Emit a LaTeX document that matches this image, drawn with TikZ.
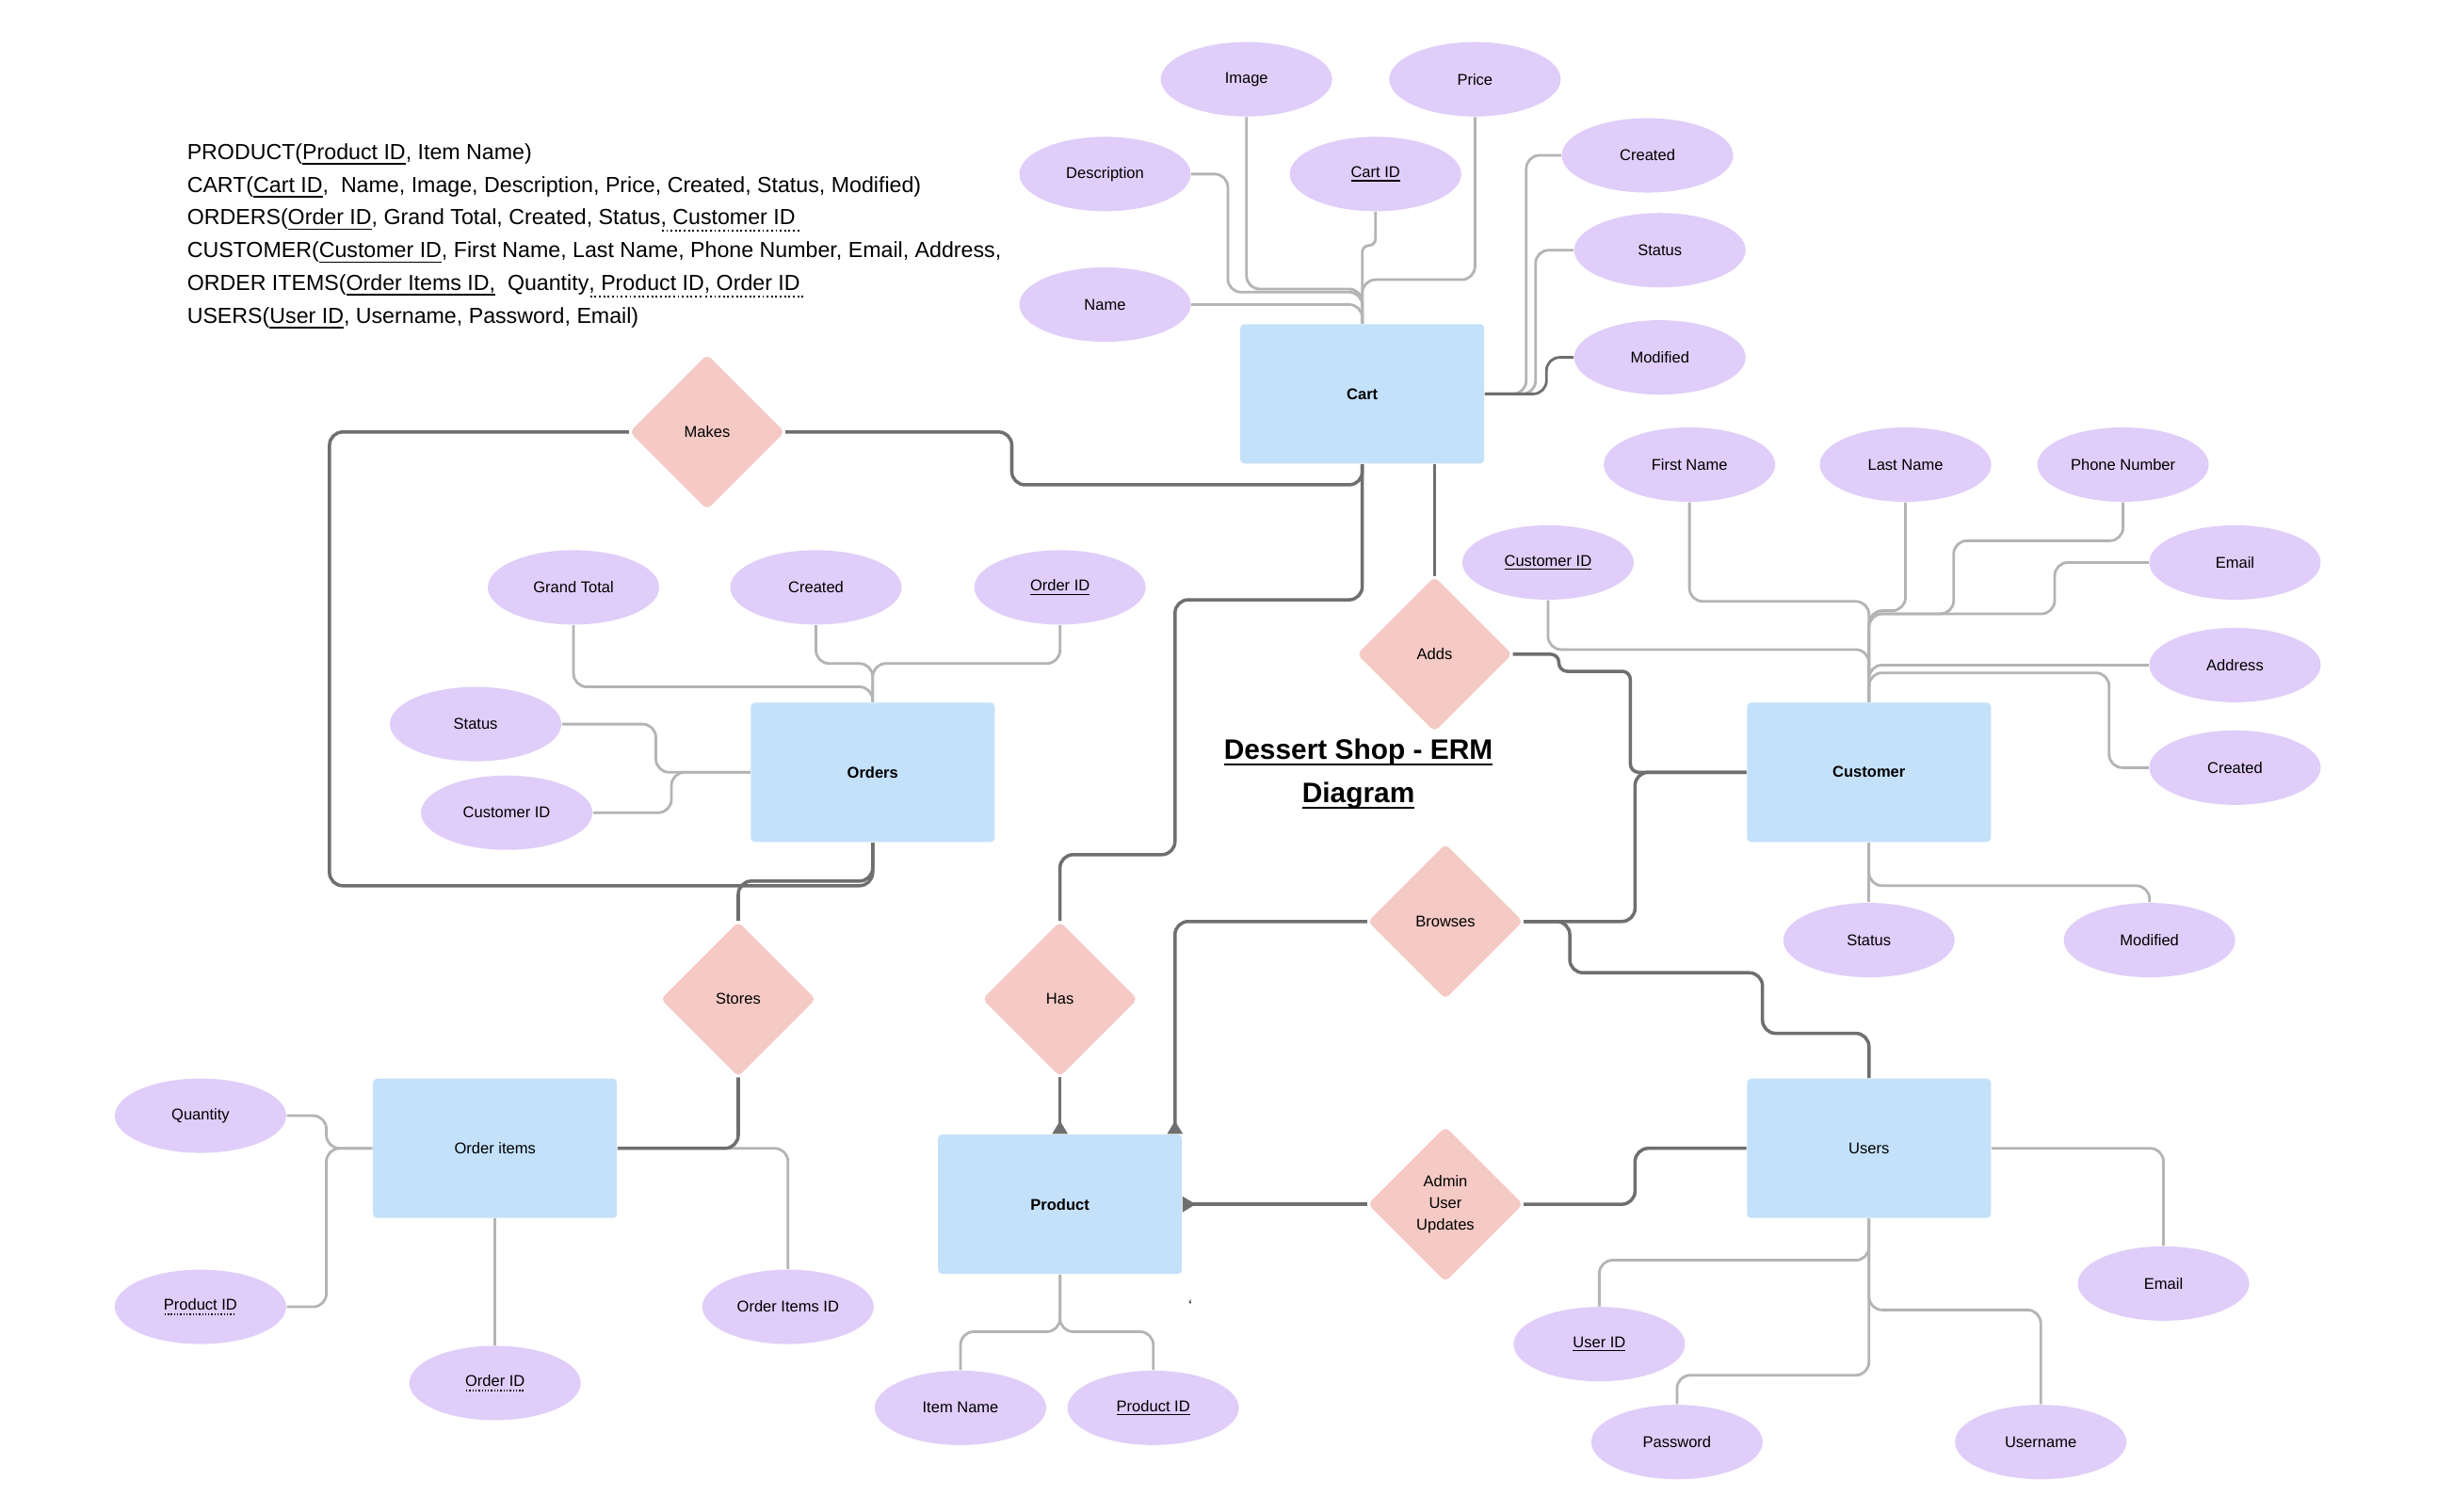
\documentclass[tikz,border=0pt]{standalone}
\usepackage{fontspec}
\setmainfont{Liberation Sans}
\usetikzlibrary{arrows.meta,shapes.geometric}
\definecolor{attrpurple}{HTML}{E0CDF9}
\definecolor{entityblue}{HTML}{C4E1FA}
\definecolor{relpink}{HTML}{F5C9C4}
\definecolor{linegrey}{HTML}{B4B4B4}
\definecolor{relgrey}{HTML}{6F6F6F}
\newsavebox{\ulbox}
\newcommand{\keyline}[1]{% solid underline (key)
  \sbox{\ulbox}{#1}\rlap{\raisebox{-0.24em}{\rule{\wd\ulbox}{0.07em}}}\usebox{\ulbox}}
\newcommand{\fkline}[1]{% dotted underline (foreign key)
  \sbox{\ulbox}{#1}\rlap{\raisebox{-0.32em}{\hbox to \wd\ulbox{\leaders\hbox to 0.2em{\hss\rule{0.08em}{0.08em}\hss}\hfill}}}\usebox{\ulbox}}
\newcommand{\smallfont}{\fontsize{4.7}{5.6}\selectfont}
\tikzset{
  attr/.style={ellipse, fill=attrpurple, minimum width=18.2mm, minimum height=7.9mm, inner sep=0pt, font=\smallfont},
  entity/.style={rectangle, rounded corners=1.2pt, fill=entityblue, minimum width=25.9mm, minimum height=14.8mm, font=\smallfont\bfseries},
  relation/.style={diamond, aspect=1, fill=relpink, rounded corners=1.5pt, minimum width=16.5mm, minimum height=16.5mm, inner sep=0pt, align=center, font=\fontsize{4.7}{6.6}\selectfont},
  attrline/.style={linegrey, line width=0.8pt, rounded corners=4pt},
  relline/.style={relgrey, line width=1pt, rounded corners=4pt},
  keyend/.style={-{Triangle[reversed,length=4pt,width=4.5pt]}},
}

\begin{document}
\begin{tikzpicture}[x=0.16505mm, y=-0.16505mm]
  \fill[white] (0,0) rectangle (1568,973);
  \useasboundingbox (0,0) rectangle (1568,973);
  % Schema text
  \node[anchor=base west, align=left, inner sep=0pt, font=\fontsize{6.6}{9.9}\selectfont] (schema) at (120,208)
    {PRODUCT(\keyline{Product ID}, Item Name)\\
     CART(\keyline{Cart ID},\ \ Name, Image, Description, Price, Created, Status, Modified)\\
     ORDERS(\keyline{Order ID}, Grand Total, Created, Status\fkline{, Customer ID\ }\\
     CUSTOMER(\keyline{Customer ID}, First Name, Last Name, Phone Number, Email, Address,\\
     ORDER ITEMS(\keyline{Order Items ID,}\ \ Quantity\fkline{, Product ID}\fkline{, Order ID\ }\\
     USERS(\keyline{User ID}, Username, Password, Email)};
  \node[font=\fontsize{8.5}{13.1}\selectfont\bfseries, align=center] (title) at (874,498)
    {\keyline{Dessert Shop - ERM}\\\keyline{Diagram}};
  % Entities
  \node[entity] (cart) at (876.5,253.5) {Cart};
  \node[entity] (orders) at (561.5,497) {Orders};
  \node[entity] (customer) at (1202.5,497) {Customer};
  \node[entity, font=\smallfont] (orderitems) at (318.5,739) {Order items};
  \node[entity] (product) at (682,775) {Product};
  \node[entity, font=\smallfont] (users) at (1202.5,739) {Users};
  % Relationships
  \node[relation] (makes) at (455,278) {Makes};
  \node[relation] (adds) at (923,421) {Adds};
  \node[relation] (browses) at (930,593) {Browses};
  \node[relation] (stores) at (475,643) {Stores};
  \node[relation] (has) at (682,643) {Has};
  \node[relation] (adminupd) at (930,775) {Admin\\User\\Updates};
  % Cart attributes
  \node[attr] (cartimage) at (802,51) {Image};
  \node[attr] (cartprice) at (949,51) {Price};
  \node[attr] (cartdesc) at (711,112) {Description};
  \node[attr] (cartid) at (885,112) {\keyline{Cart ID}};
  \node[attr] (cartname) at (711,196) {Name};
  \node[attr] (cartcreated) at (1060,100) {Created};
  \node[attr] (cartstatus) at (1068,161) {Status};
  \node[attr] (cartmod) at (1068,230) {Modified};
  % Orders attributes
  \node[attr] (ordgrand) at (369,378) {Grand Total};
  \node[attr] (ordcreated) at (525,378) {Created};
  \node[attr] (ordid) at (682,378) {\keyline{Order ID}};
  \node[attr] (ordstatus) at (306,466) {Status};
  \node[attr] (ordcustid) at (326,523) {Customer ID};
  % Customer attributes
  \node[attr] (custid) at (996,362) {\keyline{Customer ID}};
  \node[attr] (custfirst) at (1087,299) {First Name};
  \node[attr] (custlast) at (1226,299) {Last Name};
  \node[attr] (custphone) at (1366,299) {Phone Number};
  \node[attr] (custemail) at (1438,362) {Email};
  \node[attr] (custaddr) at (1438,428) {Address};
  \node[attr] (custcreated) at (1438,494) {Created};
  \node[attr] (custstatus) at (1202.5,605) {Status};
  \node[attr] (custmod) at (1383,605) {Modified};
  % Users attributes
  \node[attr] (userid) at (1029,865) {\keyline{User ID}};
  \node[attr] (userpass) at (1079,928) {Password};
  \node[attr] (username) at (1313,928) {Username};
  \node[attr] (useremail) at (1392,826) {Email};
  % Order items attributes
  \node[attr] (oiqty) at (129,718) {Quantity};
  \node[attr] (oiprodid) at (129,841) {\fkline{Product ID}};
  \node[attr] (oiordid) at (318.5,890) {\fkline{Order ID}};
  \node[attr] (oiid) at (507,841) {Order Items ID};
  % Product attributes
  \node[attr] (prodname) at (618,906) {Item Name};
  \node[attr] (prodid) at (742,906) {\keyline{Product ID}};
  \node[font=\smallfont] (tick) at (766,840) {`};

  % Attribute links
  \draw[attrline] (cartname.east) -| (cart.north);
  \draw[attrline] (cartdesc.east) -| (790,188) -| (cart.north);
  \draw[attrline] (cartimage.south) -- (802,186) -| (cart.north);
  \draw[attrline, rounded corners=2pt] (cartid.south) -- (885,158) -| (cart.north);
  \draw[attrline] (cartprice.south) -- (949,180) -| (cart.north);
  \draw[attrline] (cartcreated.west) -- (982,100) |- (cart.east);
  \draw[attrline] (cartstatus.west) -- (988,161) |- (cart.east);
  \draw[attrline, relgrey] (cartmod.west) -- (995,230) |- (cart.east);
  \draw[attrline] (ordgrand.south) -- (369,442) -| (orders.north);
  \draw[attrline] (ordcreated.south) -- (525,427) -| (orders.north);
  \draw[attrline] (ordid.south) -- (682,427) -| (orders.north);
  \draw[attrline] (ordstatus.east) -- (422,466) |- (orders.west);
  \draw[attrline] (ordcustid.east) -- (432,523) |- (orders.west);
  \draw[attrline] (custfirst.south) -- (1087,387) -| (customer.north);
  \draw[attrline] (custlast.south) -- (1226,393) -| (customer.north);
  \draw[attrline] (custphone.south) -- (1366,348) -| (1257,395) -| (customer.north);
  \draw[attrline] (custemail.west) -| (1322,395) -| (customer.north);
  \draw[attrline] (custid.south) -- (996,418) -| (customer.north);
  \draw[attrline] (custaddr.west) -| (customer.north);
  \draw[attrline] (custcreated.west) -| (1357,433) -| (customer.north);
  \draw[attrline] (customer.south) -- (custstatus.north);
  \draw[attrline] (customer.south) -- (1202.5,570) -| (custmod.north);
  \draw[attrline] (users.east) -| (useremail.north);
  \draw[attrline] (users.south) -- (1202.5,811) -| (userid.north);
  \draw[attrline] (users.south) -- (1202.5,885) -| (userpass.north);
  \draw[attrline] (users.south) -- (1202.5,843) -| (username.north);
  \draw[attrline] (oiqty.east) -- (210,718) |- (orderitems.west);
  \draw[attrline] (oiprodid.east) -- (210,841) |- (orderitems.west);
  \draw[attrline] (orderitems.south) -- (oiordid.north);
  \draw[attrline] (orderitems.east) -| (oiid.north);
  \draw[attrline] (product.south) -- (682,857) -| (prodname.north);
  \draw[attrline] (product.south) -- (682,857) -| (prodid.north);

  % Relationship links
  \draw[relline] (makes.west) -| (212,570) -| (orders.south);
  \draw[relline] (makes.east) -| (651,312) -| (cart.south);
  \draw[relline] (stores.north) -- (475,567) -| (orders.south);
  \draw[relline] (stores.south) |- (orderitems.east);
  \draw[relline] (has.north) -- (682,550) -| (756,386) -| (cart.south);
  \draw[relline, keyend] (has.south) -- (has.south |- product.north);
  \draw[relline] (adds.north) -- (adds.north |- cart.south);
  \draw[relline, rounded corners=2.5pt] (adds.east) -| (1003,432) -| (1049,497) -- (customer.west);
  \draw[relline, keyend] (browses.west) -| ([xshift=-2.3pt]product.north east);
  \draw[relline] (browses.east) -| (1052,497) -- (customer.west);
  \draw[relline] (browses.east) -| (1010,626) -| (1134,665) -| (users.north);
  \draw[relline, keyend] (adminupd.west) -- (product.east);
  \draw[relline] (adminupd.east) -| (1052,739) -- (users.west);
\end{tikzpicture}
\end{document}
